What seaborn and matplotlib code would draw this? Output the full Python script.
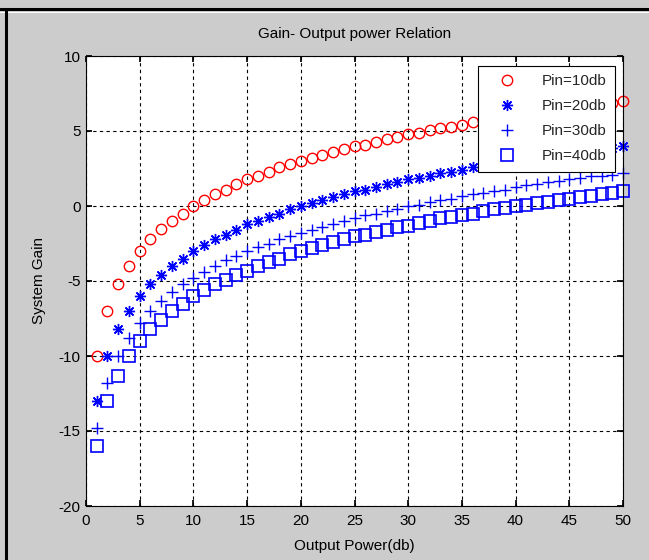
import matplotlib
matplotlib.use("Agg")
import matplotlib.pyplot as plt
import seaborn as sns
import pandas as pd
from matplotlib.lines import Line2D

output_power = list(range(1, 51))

gain_pin10 = [-10.0, -7.0, -5.2, -4.0, -3.0, -2.2, -1.5, -1.0, -0.5, 0.0,
              0.4, 0.8, 1.1, 1.5, 1.8, 2.0, 2.3, 2.6, 2.8, 3.0,
              3.2, 3.4, 3.6, 3.8, 4.0, 4.1, 4.3, 4.5, 4.6, 4.8,
              4.9, 5.1, 5.2, 5.3, 5.4, 5.6, 5.7, 5.8, 5.9, 6.0,
              6.1, 6.2, 6.3, 6.4, 6.5, 6.6, 6.7, 6.8, 6.9, 7.0]
gain_pin20 = [-13.0, -10.0, -8.2, -7.0, -6.0, -5.2, -4.6, -4.0, -3.5, -3.0,
              -2.6, -2.2, -1.9, -1.6, -1.2, -1.0, -0.7, -0.5, -0.2, 0.0,
              0.2, 0.4, 0.6, 0.8, 1.0, 1.1, 1.3, 1.5, 1.6, 1.8,
              1.9, 2.0, 2.2, 2.3, 2.4, 2.6, 2.7, 2.8, 2.9, 3.0,
              3.1, 3.2, 3.3, 3.4, 3.5, 3.6, 3.7, 3.8, 3.9, 4.0]
gain_pin30 = [-14.8, -11.8, -10.0, -8.8, -7.8, -7.0, -6.3, -5.7, -5.2, -4.8,
              -4.4, -4.0, -3.6, -3.3, -3.0, -2.7, -2.5, -2.2, -2.0, -1.8,
              -1.6, -1.4, -1.2, -1.0, -0.8, -0.6, -0.5, -0.3, -0.2, 0.0,
              0.1, 0.3, 0.4, 0.5, 0.7, 0.8, 0.9, 1.0, 1.1, 1.3,
              1.4, 1.5, 1.6, 1.7, 1.8, 1.9, 2.0, 2.0, 2.1, 2.2]
gain_pin40 = [-16.0, -13.0, -11.3, -10.0, -9.0, -8.2, -7.6, -7.0, -6.5, -6.0,
              -5.6, -5.2, -4.9, -4.6, -4.3, -4.0, -3.7, -3.5, -3.2, -3.0,
              -2.8, -2.6, -2.4, -2.2, -2.0, -1.9, -1.7, -1.6, -1.4, -1.3,
              -1.1, -1.0, -0.8, -0.7, -0.6, -0.5, -0.3, -0.2, -0.1, 0.0,
              0.1, 0.2, 0.3, 0.4, 0.5, 0.6, 0.7, 0.8, 0.9, 1.0]

series_labels = ["Pin=10db", "Pin=20db", "Pin=30db", "Pin=40db"]
x_ticks = [0, 5, 10, 15, 20, 25, 30, 35, 40, 45, 50]
y_ticks = [-20, -15, -10, -5, 0, 5, 10]

sns.set_theme(style="white")
plt.rcParams['font.family'] = ['Liberation Sans', 'DejaVu Sans']
plt.rcParams['axes.unicode_minus'] = False

BG = "#cccccc"
fig = plt.figure(figsize=(6.49, 5.6), dpi=100, facecolor=BG)
ax = fig.add_axes([86/649, 1-506/560, (623-86)/649, (506-56)/560])
ax.set_facecolor("white")

styles = [
    dict(marker='o', mfc='none', mec='red', ms=7.5, mew=1.0),
    dict(marker=(8, 2, 0), mfc='blue', mec='blue', ms=8, mew=1.0),
    dict(marker='+', mfc='blue', mec='blue', ms=9, mew=1.0),
    dict(marker='s', mfc='none', mec='blue', ms=8.5, mew=1.2),
]
series = [gain_pin10, gain_pin20, gain_pin30, gain_pin40]
for vals, lab, st in zip(series, series_labels, styles):
    df = pd.DataFrame({"Output Power": output_power, "Gain": vals})
    sns.lineplot(data=df, x="Output Power", y="Gain", ax=ax, linestyle='none',
                 marker=st['marker'], markerfacecolor=st['mfc'],
                 markeredgecolor=st['mec'], markersize=st['ms'],
                 markeredgewidth=st['mew'], label=lab, clip_on=False)

ax.set_xlim(0, 50)
ax.set_ylim(-20, 10)
ax.set_xticks(x_ticks)
ax.set_yticks(y_ticks)
ax.grid(True, color='black', linestyle=(0, (3, 3)), linewidth=0.8)
ax.tick_params(axis='both', direction='in', length=4, color='black', labelsize=11,
               labelcolor='black', top=True, right=True, bottom=True, left=True)
ax.tick_params(axis='x', pad=6)
ax.tick_params(axis='y', pad=4)
for s in ax.spines.values():
    s.set_color('black')
    s.set_linewidth(0.8)
ax.set_title("Gain- Output power Relation", fontsize=11, color='black', pad=13)
ax.set_xlabel("Output Power(db)", fontsize=11, color='black', labelpad=8)
ax.set_ylabel("System Gain", fontsize=11, color='black', labelpad=9)

handles = [Line2D([], [], linestyle='none', marker=st['marker'],
                  markerfacecolor=st['mfc'], markeredgecolor=st['mec'],
                  markersize=st['ms'], markeredgewidth=st['mew'])
           for st in styles]
leg = ax.legend(handles, series_labels, loc='upper right',
                bbox_to_anchor=(615/649, 1-66/560), bbox_transform=fig.transFigure,
                fontsize=11, frameon=True, fancybox=False, borderaxespad=0,
                handlelength=2.6, handletextpad=1.0, labelspacing=0.72,
                borderpad=0.55)
leg.get_frame().set_edgecolor('black')
leg.get_frame().set_linewidth(0.8)
leg.get_frame().set_facecolor('white')
leg.get_frame().set_alpha(1)

# window border lines
fig.add_artist(Line2D([0, 1], [1-9/560, 1-9/560], transform=fig.transFigure,
                      color='black', linewidth=2.2))
fig.add_artist(Line2D([0, 1], [1-12/560, 1-12/560], transform=fig.transFigure,
                      color='white', linewidth=0.8))
fig.add_artist(Line2D([6/649, 6/649], [0, 1-9/560], transform=fig.transFigure,
                      color='black', linewidth=2.2))

fig.savefig("out.png", dpi=100, facecolor=BG)
